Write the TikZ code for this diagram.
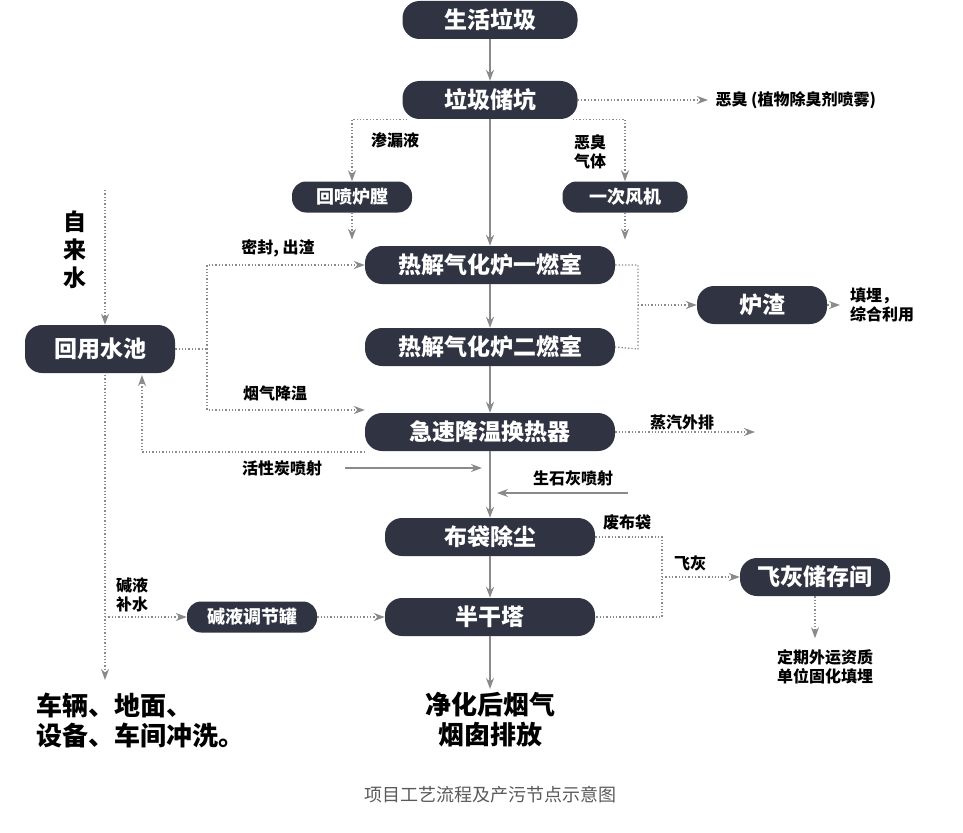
\documentclass[tikz,border=0pt]{standalone}
\usepackage{fontspec}
\setmainfont{Noto Sans CJK SC}
\usetikzlibrary{arrows.meta}
\definecolor{boxc}{HTML}{2F3342}
\definecolor{linec}{HTML}{8A8A8A}
\tikzset{
  box/.style={fill=boxc, text=white, rounded corners=17pt, minimum height=38pt, font=\fontsize{23}{23}\selectfont\bfseries},
  sbox/.style={fill=boxc, text=white, rounded corners=14pt, minimum height=31pt, font=\fontsize{18}{18}\selectfont\bfseries},
  lbl/.style={font=\fontsize{16}{19}\selectfont\bfseries, align=left},
  big/.style={font=\fontsize{26}{30}\selectfont\bfseries, align=left},
  main/.style={draw=linec, line width=1.3pt, -{Stealth[length=11pt,width=8pt]}},
  aux/.style={draw=linec, line width=1.3pt, dotted, -{Stealth[length=11pt,width=8pt]}},
  auxl/.style={draw=linec, line width=1.3pt, dotted},
}
\begin{document}
\begin{tikzpicture}[x=1pt, y=-1pt]
  \useasboundingbox (0,0) rectangle (963,832);

  \node[box, minimum width=175pt] (ljsh) at (490, 20) {生活垃圾};
  \node[box, minimum width=175pt] (ljck) at (490, 100) {垃圾储坑};
  \node[sbox, minimum width=120pt] (hplt) at (352, 197) {回喷炉膛};
  \node[sbox, minimum width=125pt] (ycfj) at (625, 197) {一次风机};
  \node[box, minimum width=250pt] (ys) at (490, 265) {热解气化炉一燃室};
  \node[box, minimum width=250pt] (es) at (490, 347) {热解气化炉二燃室};
  \node[box, minimum width=250pt] (hrq) at (490, 432) {急速降温换热器};
  \node[box, minimum width=150pt, minimum height=48pt] (hysc) at (100, 349) {回用水池};
  \node[box, minimum width=130pt] (lz) at (762, 305) {炉渣};
  \node[box, minimum width=210pt] (bdcc) at (490, 537) {布袋除尘};
  \node[box, minimum width=210pt] (bgt) at (490, 617) {半干塔};
  \node[box, minimum width=150pt] (fhcc) at (815, 577) {飞灰储存间};
  \node[sbox, minimum width=130pt] (jytj) at (252, 617) {碱液调节罐};

  \node[lbl, anchor=west] (ec) at (712, 100) {恶臭 (植物除臭剂喷雾)};
  \node[lbl] (sly) at (395, 140) {渗漏液};
  \node[lbl] (ecqt) at (590, 152) {恶臭\\气体};
  \node[big, align=center, font=\fontsize{23}{28}\selectfont\bfseries] (zls) at (75, 250) {自\\来\\水};
  \node[lbl] (mf) at (278, 248) {密封, 出渣};
  \node[lbl] (yqjw) at (275, 393) {烟气降温};
  \node[lbl] (tm) at (882, 305) {填埋，\\综合利用};
  \node[lbl] (zqwp) at (682, 422) {蒸汽外排};
  \node[lbl] (hxt) at (282, 468) {活性炭喷射};
  \node[lbl] (ssh) at (573, 478) {生石灰喷射};
  \node[lbl] (fbd) at (627, 522) {废布袋};
  \node[lbl] (fh) at (690, 563) {飞灰};
  \node[lbl] (jybs) at (132, 595) {碱液\\补水};
  \node[lbl, align=center] (dqwy) at (825, 667) {定期外运资质\\单位固化填埋};
  \node[big] (cl) at (140, 720) {车辆、地面、\\设备、车间冲洗。};
  \node[big, align=center] (jh) at (490, 720) {净化后烟气\\烟囱排放};
  \node[font=\fontsize{18}{18}\selectfont, text=black!65] (title) at (490, 795) {项目工艺流程及产污节点示意图};

  \coordinate (ecend) at (708, 100);
  \coordinate (zqend) at (755, 432);
  \coordinate (zltop) at (105, 190);
  \coordinate (hxts) at (345, 468);
  \coordinate (hxte) at (482, 468);
  \coordinate (sshs) at (628, 493);
  \coordinate (sshe) at (497, 493);
  \coordinate (clend) at (105, 680);

  % main gas line
  \draw[main] (ljsh) -- (ljck);
  \draw[main] (ljck) -- (ys);
  \draw[main] (ys) -- (es);
  \draw[main] (es) -- (hrq);
  \draw[main] (hrq) -- (bdcc);
  \draw[main] (bdcc) -- (bgt);
  \draw[main] (bgt.south) -- (jh.north);
  \draw[main] (hxts) -- (hxte);
  \draw[main] (sshs) -- (sshe);

  % storage pit outputs
  \draw[aux] (ljck.east) -- (ecend);
  \draw[aux] (ljck.south west) ++(5,0) -| (hplt.north);
  \draw[aux] (ljck.south east) ++(-5,0) -| (ycfj.north);
  \draw[aux] (hplt.south) -- ++(0,27);
  \draw[aux] (ycfj.south) -- ++(0,27);

  % water
  \draw[aux] (zltop) -- (zltop |- hysc.north);
  \draw[auxl] (hysc.east) -- (207, 349);
  \draw[aux] (207, 349) |- (ys.west);
  \draw[aux] (207, 349) |- ([yshift=22pt]hrq.west);
  \draw[aux] ([yshift=-20pt]hrq.west) -| (142, 375);
  \draw[aux] (105, 375) -- (clend);
  \draw[aux] (105, 617) -- (jytj.west);
  \draw[aux] (jytj) -- (bgt);

  % slag and steam
  \draw[auxl] (ys.east) -| (638, 349) -- (es.east);
  \draw[aux] (638, 305) -- (lz.west);
  \draw[aux] (lz.east) -- (840, 305);
  \draw[aux] (hrq.east) -- (zqend);

  % fly ash
  \draw[auxl] (bdcc.east) -| (662, 617) -- (bgt.east);
  \draw[aux] (662, 577) -- (fhcc.west);
  \draw[aux] (fhcc.south) -- ++(0,42);
\end{tikzpicture}
\end{document}
